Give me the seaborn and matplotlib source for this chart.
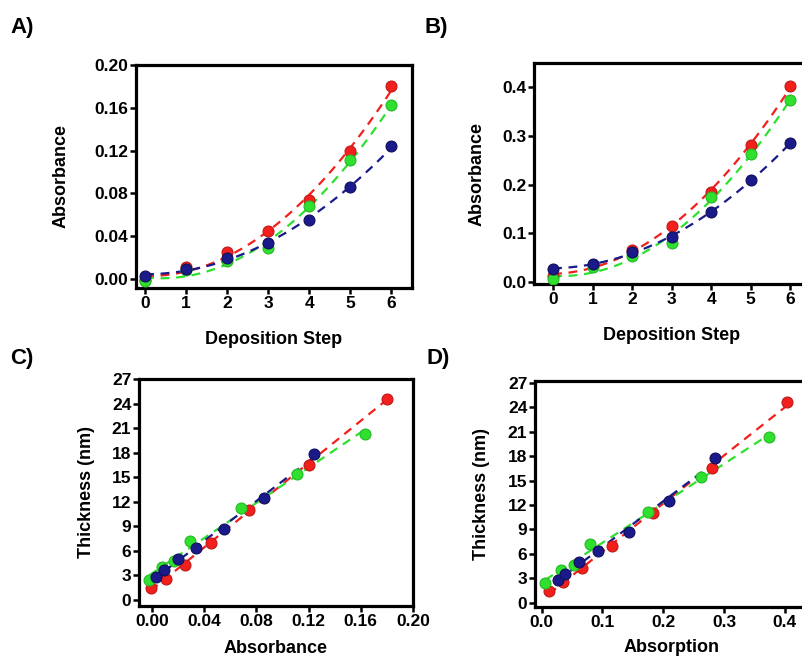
import numpy as np
import pandas as pd
import matplotlib
matplotlib.use("Agg")
import matplotlib.pyplot as plt
import seaborn as sns

# ---------------- data ----------------
steps = [0, 1, 2, 3, 4, 5, 6]
series_names = ["red", "green", "blue"]

absA_red = [-0.001, 0.011, 0.025, 0.045, 0.074, 0.120, 0.180]
absA_green = [-0.002, 0.008, 0.017, 0.029, 0.068, 0.111, 0.163]
absA_blue = [0.003, 0.009, 0.020, 0.034, 0.055, 0.086, 0.124]

absB_red = [0.012, 0.035, 0.066, 0.116, 0.184, 0.281, 0.403]
absB_green = [0.006, 0.031, 0.053, 0.080, 0.175, 0.263, 0.374]
absB_blue = [0.027, 0.038, 0.062, 0.092, 0.143, 0.210, 0.285]

thk_red = [1.4, 2.6, 4.3, 7.0, 11.0, 16.5, 24.6]
thk_green = [2.4, 4.0, 4.7, 7.2, 11.2, 15.4, 20.3]
thk_blue = [2.8, 3.6, 5.0, 6.4, 8.7, 12.5, 17.8]

yticksA = [0.00, 0.04, 0.08, 0.12, 0.16, 0.20]
yticksB = [0.0, 0.1, 0.2, 0.3, 0.4]
yticksCD = [0, 3, 6, 9, 12, 15, 18, 21, 24, 27]
xticksC = [0.00, 0.04, 0.08, 0.12, 0.16, 0.20]
xticksD = [0.0, 0.1, 0.2, 0.3, 0.4]

colors = {"red": "#f2201c", "green": "#2fe02f", "blue": "#1a1a8a"}
edge = {"red": "#c01818", "green": "#28b828", "blue": "#10105a"}

# ---------------- style ----------------
sns.set_theme(style="ticks")
plt.rcParams["font.family"] = ["Liberation Sans", "DejaVu Sans"]
plt.rcParams["font.weight"] = "bold"
plt.rcParams["axes.labelweight"] = "bold"
plt.rcParams["text.color"] = "black"
plt.rcParams["axes.labelcolor"] = "black"
plt.rcParams["xtick.color"] = "black"
plt.rcParams["ytick.color"] = "black"

W, H = 802, 660
fig = plt.figure(figsize=(W / 100, H / 100), dpi=100)


def px_axes(left, top, right, bottom):
    return fig.add_axes([left / W, 1 - bottom / H, (right - left) / W, (bottom - top) / H])


axA = px_axes(136, 65, 412, 288)
axB = px_axes(534, 63, 810, 284)
axC = px_axes(139, 379, 413, 606)
axD = px_axes(535, 381, 809, 607)

dfA = pd.DataFrame({"x": steps * 3,
                    "y": absA_red + absA_green + absA_blue,
                    "s": [n for n in series_names for _ in steps]})
dfB = pd.DataFrame({"x": steps * 3,
                    "y": absB_red + absB_green + absB_blue,
                    "s": [n for n in series_names for _ in steps]})
dfC = pd.DataFrame({"x": absA_red + absA_green + absA_blue,
                    "y": thk_red + thk_green + thk_blue,
                    "s": [n for n in series_names for _ in steps]})
dfD = pd.DataFrame({"x": absB_red + absB_green + absB_blue,
                    "y": thk_red + thk_green + thk_blue,
                    "s": [n for n in series_names for _ in steps]})


def draw(ax, df, order):
    for name in series_names:
        sub = df[df["s"] == name]
        sns.regplot(data=sub, x="x", y="y", ax=ax, order=order, ci=None,
                    scatter=False, truncate=True,
                    line_kws=dict(color=colors[name], lw=1.6, ls=(0, (4, 3))))
    for name in series_names:
        sub = df[df["s"] == name]
        sns.scatterplot(data=sub, x="x", y="y", ax=ax, s=62, color=colors[name],
                        edgecolor=edge[name], linewidth=0.8, zorder=5, legend=False)


draw(axA, dfA, 2)
draw(axB, dfB, 2)
draw(axC, dfC, 1)
draw(axD, dfD, 1)

axA.set_xlim(-0.22, 6.5)
axA.set_ylim(-0.0084, 0.20)
axA.set_xticks(steps)
axA.set_yticks(yticksA)
axA.set_yticklabels([f"{v:.2f}" for v in yticksA])

axB.set_xlim(-0.48, 6.5)
axB.set_ylim(-0.004, 0.45)
axB.set_xticks(steps)
axB.set_yticks(yticksB)
axB.set_yticklabels([f"{v:.1f}" for v in yticksB])

axC.set_xlim(-0.010, 0.20)
axC.set_ylim(-0.74, 27)
axC.set_xticks(xticksC)
axC.set_xticklabels([f"{v:.2f}" for v in xticksC])
axC.set_yticks(yticksCD)

axD.set_xlim(-0.011, 0.44)
axD.set_ylim(-0.5, 27.2)
axD.set_xticks(xticksD)
axD.set_xticklabels([f"{v:.1f}" for v in xticksD])
axD.set_yticks(yticksCD)

labels = {axA: ("Deposition Step", "Absorbance", 15, 18),
          axB: ("Deposition Step", "Absorbance", 15, 12),
          axC: ("Absorbance", "Thickness (nm)", 8, 12),
          axD: ("Absorption", "Thickness (nm)", 7, 13)}

for ax, (xl, yl, xp, yp) in labels.items():
    ax.set_xlabel(xl, fontsize=13, fontweight="bold", labelpad=xp)
    ax.set_ylabel(yl, fontsize=13, fontweight="bold", labelpad=yp)
    for sp in ax.spines.values():
        sp.set_visible(True)
        sp.set_linewidth(2.3)
        sp.set_color("black")
    ax.tick_params(axis="both", direction="out", length=4, width=1.8,
                   labelsize=12.5, pad=1.5, colors="black")
    for t in ax.get_xticklabels() + ax.get_yticklabels():
        t.set_fontweight("bold")
    ax.set_facecolor("white")

for txt, x, y in [("A)", 10, 27), ("B)", 425, 27), ("C)", 10, 358), ("D)", 427, 358)]:
    fig.text(x / W, 1 - y / H, txt, fontsize=16, fontweight="bold", va="center", ha="left")

fig.savefig("out.png", dpi=100, facecolor="white")
